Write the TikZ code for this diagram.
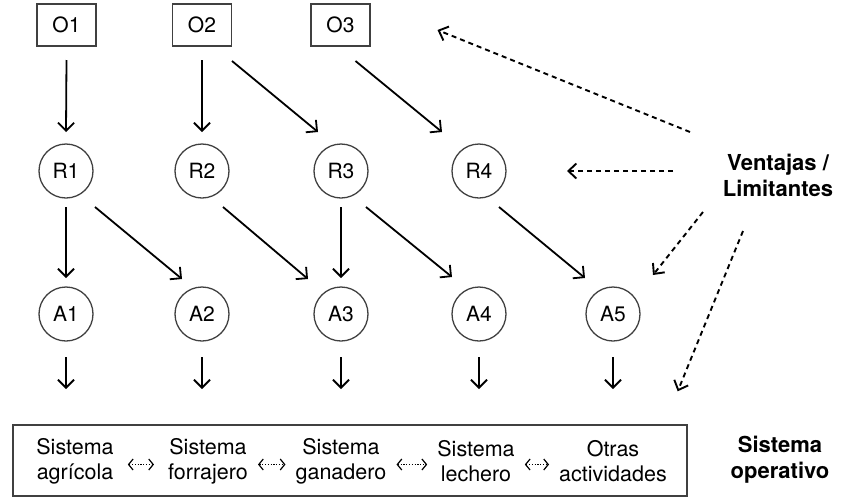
\documentclass[tikz,border=0pt]{standalone}
\usepackage{fontspec}
\setmainfont{TeX Gyre Heros}
\usetikzlibrary{arrows.meta,calc}
\begin{document}
\begin{tikzpicture}[x=1pt,y=-1pt,
 obox/.style={draw=black!75,line width=1.4pt,minimum width=59pt,minimum height=42pt,inner sep=0pt,font=\fontsize{21}{25}\selectfont},
 circ/.style={draw=black!75,line width=1.3pt,circle,minimum size=54pt,inner sep=0pt,font=\fontsize{21}{25}\selectfont},
 arr/.style={line width=1.8pt,-{Straight Barb[length=8pt,width=16pt]}},
 darr/.style={line width=1.9pt,dash pattern=on 5pt off 4pt,-{Straight Barb[length=8pt,width=15pt]}},
 sarr/.style={line width=1.2pt,dash pattern=on 1.2pt off 1.6pt,{Straight Barb[length=4.5pt,width=11pt]}-{Straight Barb[length=4.5pt,width=11pt]}},
 sys/.style={align=center,font=\fontsize{21.5}{25}\selectfont,inner sep=0pt},
 boldlbl/.style={align=center,font=\bfseries\fontsize{22}{26}\selectfont,inner sep=0pt}
]
\useasboundingbox (0,0) rectangle (847,499);

% top row
\node[obox] (O1) at (66.5,25) {O1};
\node[obox] (O2) at (202,25) {O2};
\node[obox] (O3) at (340.5,25) {O3};

% R row
\node[circ] (R1) at (66,171) {R1};
\node[circ] (R2) at (202,171) {R2};
\node[circ] (R3) at (341,171) {R3};
\node[circ] (R4) at (479,171) {R4};

% A row
\node[circ] (A1) at (66,314) {A1};
\node[circ] (A2) at (202,314) {A2};
\node[circ] (A3) at (341,314) {A3};
\node[circ] (A4) at (479,314) {A4};
\node[circ] (A5) at (613,314) {A5};

% labels
\node[boldlbl] (VL) at (778,175) {Ventajas /\\Limitantes};
\node[boldlbl] (SO) at (780,460) {Sistema\\operativo};

% bottom box
\node[draw=black!75,line width=1.4pt,minimum width=674pt,minimum height=71pt,inner sep=0pt] (box) at (350,460.5) {};
\node[sys] (S1) at (75,461.5) {Sistema\\agrícola};
\node[sys] (S2) at (208,461.5) {Sistema\\forrajero};
\node[sys] (S3) at (341,461.5) {Sistema\\ganadero};
\node[sys] (S4) at (476,461.5) {Sistema\\lechero};
\node[sys] (S5) at (613,461.5) {Otras\\actividades};

\draw[sarr] ($(S1.east)+(14,3)$) -- ($(S2.west)+(-14,3)$);
\draw[sarr] ($(S2.east)+(10,3)$) -- ($(S3.west)+(-10,3)$);
\draw[sarr] ($(S3.east)+(10,3)$) -- ($(S4.west)+(-10,3)$);
\draw[sarr] ($(S4.east)+(10,3)$) -- ($(S5.west)+(-10,3)$);

% O -> R
\draw[arr] ($(O1)+(0,35)$) -- ($(R1)+(0,-39)$);
\draw[arr] ($(O2)+(0,35)$) -- ($(R2)+(0,-39)$);
\draw[arr] ($(O2)+(30,36)$) -- ($(R3)+(-23,-39)$);
\draw[arr] ($(O3)+(15,36)$) -- ($(R4)+(-37,-39)$);

% R -> A
\draw[arr] ($(R1)+(0,36)$) -- ($(A1)+(0,-36)$);
\draw[arr] ($(R1)+(29,36)$) -- ($(A2)+(-20,-35)$);
\draw[arr] ($(R2)+(21,36)$) -- ($(A3)+(-33,-35)$);
\draw[arr] ($(R3)+(0,36)$) -- ($(A3)+(0,-36)$);
\draw[arr] ($(R3)+(25,36)$) -- ($(A4)+(-27,-37)$);
\draw[arr] ($(R4)+(20,36)$) -- ($(A5)+(-28,-36)$);

% A -> down
\foreach \a in {A1,A2,A3,A4,A5}
  \draw[arr] ($(\a)+(0,43)$) -- ($(\a)+(0,75)$);

% dashed
\draw[darr] ($(VL)+(-88,-43)$) -- ($(O3)+(97,5)$);
\draw[darr] ($(VL)+(-105,-4)$) -- ($(R4)+(88,0)$);
\draw[darr] ($(VL)+(-75,37)$) -- ($(A5)+(40,-39)$);
\draw[darr] ($(VL)+(-35,56)$) -- ($(box.north east)+(-10,-33)$);
\end{tikzpicture}
\end{document}
